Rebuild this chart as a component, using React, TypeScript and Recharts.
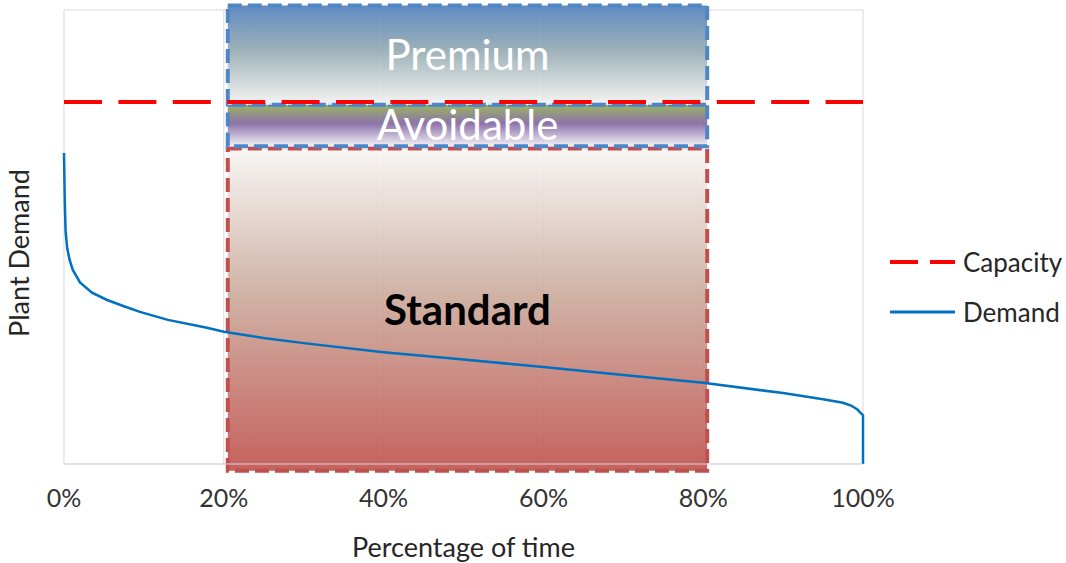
import React from 'react';
import {
  LineChart,
  Line,
  XAxis,
  YAxis,
  CartesianGrid,
  ReferenceArea,
} from 'recharts';

// percentage of time each demand level is reached (load duration curve)
const timePct = [0, 0.1, 0.2, 0.4, 0.7, 1.1, 2, 3.5, 5.4, 7.5, 9.5, 13, 17.9, 20, 25, 30, 40, 50, 60, 70, 80, 90, 95, 97.5, 98.5, 99.3, 99.7, 100, 100];
const demand = [5.48, 4.6, 4.1, 3.8, 3.6, 3.42, 3.2, 3.02, 2.89, 2.78, 2.68, 2.54, 2.4, 2.33, 2.22, 2.13, 1.97, 1.84, 1.71, 1.57, 1.43, 1.25, 1.14, 1.08, 1.03, 0.96, 0.9, 0.86, 0];

const capacityLevel = 6.38;
const xTicks = [0, 20, 40, 60, 80, 100];
const yTicks = [0, 1, 2, 3, 4, 5, 6, 7, 8];

// tariff bands over the middle of the curve
const bandPremium = { label: 'Premium', x1: 20.5, x2: 80.5, y1: 6.33, y2: 8.08 };
const bandAvoidable = { label: 'Avoidable', x1: 20.5, x2: 80.5, y1: 5.6, y2: 6.33 };
const bandStandard = { label: 'Standard', x1: 20.5, x2: 80.5, y1: -0.12, y2: 5.56 };

const demandData = timePct.map((t, i) => ({ t, demand: demand[i] }));
const capacityData = [
  { t: 0, capacity: capacityLevel },
  { t: 100, capacity: capacityLevel },
];

const FONT = 'Lato, Calibri, sans-serif';

const LegendBox = () => (
  <div style={{ position: 'absolute', left: 890, top: 237, fontFamily: FONT, fontSize: 26, color: '#262626' }}>
    <div style={{ display: 'flex', alignItems: 'center', height: 50 }}>
      <svg width={70} height={10}>
        <line x1={0} y1={5} x2={65} y2={5} stroke="#ff0000" strokeWidth={4} strokeDasharray="28 12" />
      </svg>
      <span style={{ marginLeft: 3 }}>Capacity</span>
    </div>
    <div style={{ display: 'flex', alignItems: 'center', height: 50 }}>
      <svg width={70} height={10}>
        <line x1={0} y1={5} x2={65} y2={5} stroke="#0070c0" strokeWidth={3} />
      </svg>
      <span style={{ marginLeft: 3 }}>Demand</span>
    </div>
  </div>
);

const YTitle = ({ viewBox }: any) => {
  const cx = 18;
  const cy = viewBox.y + viewBox.height / 2 + 16;
  return (
    <text
      x={cx}
      y={cy}
      transform={`rotate(-90, ${cx}, ${cy})`}
      textAnchor="middle"
      dominantBaseline="central"
      fontSize={27}
      fill="#262626"
      fontFamily={FONT}
    >
      Plant Demand
    </text>
  );
};

const App: React.FC = () => {
  return (
    <div style={{ position: 'absolute', left: 0, top: 0, width: 1066, height: 563, background: '#fff' }}>
      <LineChart width={1066} height={563} margin={{ top: 10, right: 203, left: 0, bottom: 0 }}>
        <defs>
          <linearGradient id="gradPremium" x1="0" y1="0" x2="0" y2="1">
            <stop offset="0%" stopColor="#4f7fbd" />
            <stop offset="45%" stopColor="#93a9b0" />
            <stop offset="100%" stopColor="#f4f4f2" />
          </linearGradient>
          <linearGradient id="gradAvoidable" x1="0" y1="0" x2="0" y2="1">
            <stop offset="0%" stopColor="#8fad4f" />
            <stop offset="45%" stopColor="#8064a2" />
            <stop offset="100%" stopColor="#f2f0f4" />
          </linearGradient>
          <linearGradient id="gradStandard" x1="0" y1="0" x2="0" y2="1">
            <stop offset="0%" stopColor="#f7f5f4" />
            <stop offset="45%" stopColor="#cbab9c" />
            <stop offset="100%" stopColor="#c0504d" />
          </linearGradient>
        </defs>
        <CartesianGrid stroke="#d9d9d9" />
        <XAxis
          dataKey="t"
          type="number"
          domain={[0, 100]}
          ticks={xTicks}
          tickFormatter={(v: number) => `${v}%`}
          tickLine={false}
          tickSize={0}
          tickMargin={25}
          axisLine={{ stroke: '#d9d9d9' }}
          tick={{ fontSize: 25, fill: '#333', fontFamily: FONT }}
          height={99}
          allowDuplicatedCategory={false}
          label={{
            value: 'Percentage of time',
            position: 'insideBottom',
            offset: 6,
            fontSize: 27,
            fill: '#262626',
            fontFamily: FONT,
          }}
        />
        <YAxis
          type="number"
          domain={[0, 8]}
          ticks={yTicks}
          tick={false}
          tickLine={false}
          axisLine={false}
          width={64}
          label={<YTitle />}
        />
        <Line
          data={demandData}
          dataKey="demand"
          name="Demand"
          type="linear"
          stroke="#0070c0"
          strokeWidth={2.5}
          dot={false}
          isAnimationActive={false}
        />
        {[bandStandard, bandAvoidable, bandPremium].map((b) => {
          const isStd = b === bandStandard;
          return (
            <ReferenceArea
              key={b.label}
              x1={b.x1}
              x2={b.x2}
              y1={b.y1}
              y2={b.y2}
              ifOverflow="visible"
              fill={`url(#grad${b.label})`}
              fillOpacity={0.9}
              stroke={isStd ? '#c0504d' : '#4f86c6'}
              strokeWidth={4}
              strokeDasharray="14 6"
              label={{
                value: b.label,
                position: 'center',
                fill: isStd ? '#000' : '#fff',
                fontSize: 42,
                fontWeight: isStd ? 'bold' : 'normal',
                fontFamily: FONT,
              }}
            />
          );
        })}
        <Line
          data={capacityData}
          dataKey="capacity"
          name="Capacity"
          type="linear"
          stroke="#ff0000"
          strokeWidth={4}
          strokeDasharray="38 16.4"
          dot={false}
          isAnimationActive={false}
        />
      </LineChart>
      <LegendBox />
    </div>
  );
};

export default App;
